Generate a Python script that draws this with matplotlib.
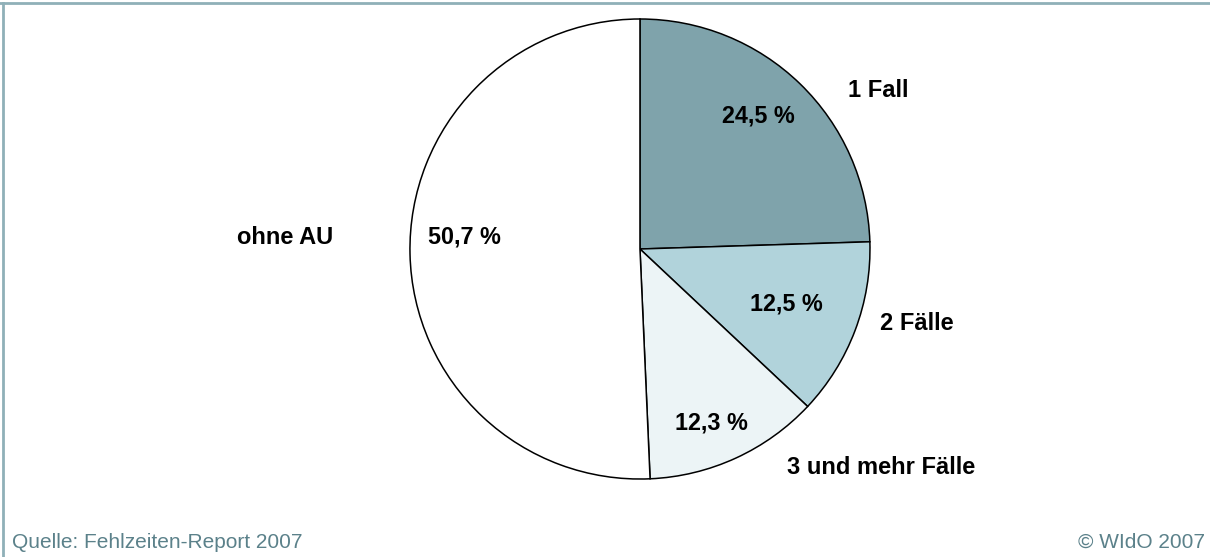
import matplotlib.pyplot as plt
from matplotlib.lines import Line2D

# data
categories = ['1 Fall', '2 Fälle', '3 und mehr Fälle', 'ohne AU']
shares = [24.5, 12.5, 12.3, 50.7]
pct_labels = ['24,5 %', '12,5 %', '12,3 %', '50,7 %']
colors = ['#7fa3ab', '#b1d3db', '#ecf4f6', '#ffffff']

# label positions (data coords, pie radius = 1)
pct_pos = [(0.515, 0.578), (0.635, -0.239), (0.311, -0.757), (-0.765, 0.052)]
cat_pos = [(1.035, 0.687), (1.202, -0.322), (1.048, -0.948), (-1.541, 0.052)]

plt.rcParams['font.family'] = ['Liberation Sans', 'DejaVu Sans']

fig = plt.figure(figsize=(12.1, 5.57), dpi=100)
ax = fig.add_axes([0.3388, 0.140, 0.3802, 0.8259])

ax.pie(shares, colors=colors, startangle=90, counterclock=False, radius=1,
       wedgeprops=dict(edgecolor='black', linewidth=1.1))
ax.set_xlim(-1, 1)
ax.set_ylim(-1, 1)
ax.set_aspect('equal')
ax.axis('off')

for (x, y), t in zip(pct_pos, pct_labels):
    ax.text(x, y, t, ha='center', va='center', fontsize=16.8, fontweight='bold', clip_on=False)
for (x, y), t in zip(cat_pos, categories):
    ax.text(x, y, t, ha='center', va='center', fontsize=17, fontweight='bold', clip_on=False)

# frame lines (top and left)
frame_col = '#8fb0b8'
fig.add_artist(Line2D([0, 1], [1 - 2.5/557, 1 - 2.5/557], color=frame_col, linewidth=2.0, transform=fig.transFigure))
fig.add_artist(Line2D([2.5/1210, 2.5/1210], [0, 1 - 2.5/557], color=frame_col, linewidth=2.0, transform=fig.transFigure))

foot_col = '#5b818a'
fig.text(12/1210, 5/557, 'Quelle: Fehlzeiten-Report 2007', ha='left', va='bottom', fontsize=15, color=foot_col)
fig.text(1205/1210, 5/557, '© WIdO 2007', ha='right', va='bottom', fontsize=15, color=foot_col)

fig.savefig('out.png', dpi=100)
